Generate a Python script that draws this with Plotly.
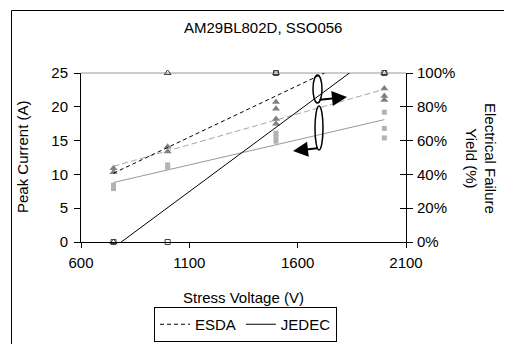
import plotly.graph_objects as go

# ---- data ----
esda_volt = [750, 750, 1000, 1000, 1500, 1500, 1500, 1500, 2000, 2000, 2000]
esda_current = [10.9, 10.3, 14.1, 13.4, 20.7, 19.7, 18.2, 17.5, 22.7, 21.6, 21.0]

jedec_volt = [750, 750, 1000, 1000, 1500, 1500, 1500, 2000, 2000, 2000]
jedec_current = [8.4, 7.9, 11.4, 11.05, 16.1, 15.5, 14.9, 19.2, 16.8, 15.4]

yield_volt = [750, 1000, 1500, 2000]
esda_yield = [0, 100, 100, 100]
jedec_yield = [0, 0, 100, 100]

fit_volt = [750, 2000]
esda_current_fit = [11.2, 22.6]
jedec_current_fit = [8.8, 18.1]
esda_yield_fit = [40.7, 116.9]
jedec_yield_fit = [-3.4, 115.3]

x_ticks = [600, 1100, 1600, 2100]
left_ticks = [0, 5, 10, 15, 20, 25]
right_ticks = [0, 20, 40, 60, 80, 100]
right_tick_text = ["0%", "20%", "40%", "60%", "80%", "100%"]

FONT = "Arial, 'Liberation Sans', sans-serif"

fig = go.Figure()

# trend lines
fig.add_trace(go.Scatter(x=fit_volt, y=esda_current_fit, mode="lines",
                         line=dict(color="#a6a6a6", width=1, dash="6px,3px"),
                         showlegend=False, yaxis="y"))
fig.add_trace(go.Scatter(x=fit_volt, y=jedec_current_fit, mode="lines",
                         line=dict(color="#999999", width=1),
                         showlegend=False, yaxis="y"))
fig.add_trace(go.Scatter(x=fit_volt, y=esda_yield_fit, mode="lines", name="ESDA",
                         line=dict(color="black", width=1, dash="4px,3px"),
                         yaxis="y2"))
fig.add_trace(go.Scatter(x=fit_volt, y=jedec_yield_fit, mode="lines", name="JEDEC",
                         line=dict(color="black", width=1),
                         yaxis="y2"))

# peak current points
fig.add_trace(go.Scatter(x=esda_volt, y=esda_current, mode="markers",
                         marker=dict(symbol="triangle-up", size=7, color="#808080"),
                         showlegend=False, yaxis="y"))
fig.add_trace(go.Scatter(x=jedec_volt, y=jedec_current, mode="markers",
                         marker=dict(symbol="square", size=5, color="#b3b3b3"),
                         showlegend=False, yaxis="y"))

# yield points
fig.add_trace(go.Scatter(x=yield_volt, y=esda_yield, mode="markers",
                         marker=dict(symbol="triangle-up-open", size=6, color="#404040",
                                     line=dict(width=1)),
                         showlegend=False, yaxis="y2", cliponaxis=False))
fig.add_trace(go.Scatter(x=yield_volt, y=jedec_yield, mode="markers",
                         marker=dict(symbol="square-open", size=5, color="#404040",
                                     line=dict(width=1)),
                         showlegend=False, yaxis="y3", cliponaxis=False))

# page body margin compensation (the page has an 8px body margin)
OFF = 8
W, H = 512 - OFF, 344 - OFF
PL, PT = 81, 73          # plot-area top-left in page pixels
pw, ph = 325, 169
L, T = PL - OFF, PT - OFF
R, B = W - L - pw, H - T - ph


def px(xp):
    return (xp - PL) / pw


def py(yp):
    return (PT + ph - yp) / ph


axis_font = dict(family=FONT, size=15, color="black")

fig.update_layout(
    width=W, height=H,
    margin=dict(l=L, r=R, t=T, b=B, pad=0, autoexpand=False),
    paper_bgcolor="white", plot_bgcolor="white",
    font=dict(family=FONT, size=15, color="black"),
    xaxis=dict(range=[600, 2100], tickvals=x_ticks, ticks="outside", ticklen=5,
               tickcolor="black", showline=True, linecolor="black", linewidth=1,
               showgrid=False, zeroline=False, tickfont=axis_font, automargin=False,
               ticklabelstandoff=2),
    yaxis=dict(range=[0, 25], tickvals=left_ticks, ticks="outside", ticklen=6,
               tickcolor="black", showline=True, linecolor="black", linewidth=1,
               showgrid=False, zeroline=False, tickfont=axis_font, automargin=False,
               ticklabelstandoff=3),
    yaxis2=dict(range=[0, 100], tickvals=right_ticks, ticktext=right_tick_text,
                overlaying="y", side="right", anchor="x",
                ticks="outside", ticklen=6, tickcolor="black",
                showline=True, linecolor="black", linewidth=1,
                showgrid=False, zeroline=False, tickfont=axis_font, automargin=False,
                ticklabelstandoff=1),
    yaxis3=dict(range=[0, 100], tickvals=right_ticks, overlaying="y", side="right",
                anchor="x", ticks="inside", ticklen=6, tickcolor="black",
                showticklabels=False, showline=False, showgrid=False, zeroline=False,
                automargin=False),
    legend=dict(orientation="h", x=px(245.5), xanchor="center", y=py(342), yanchor="bottom",
                bordercolor="black", borderwidth=1, font=dict(family=FONT, size=15),
                itemwidth=30, tracegroupgap=0),
    showlegend=True,
)

shapes = [
    # outer chart border
    dict(type="rect", xref="paper", yref="paper", x0=px(11.5), x1=px(560), y0=py(10.5), y1=py(400),
         line=dict(color="black", width=1), fillcolor="rgba(0,0,0,0)", layer="below"),
    # top plot-area edge
    dict(type="line", xref="paper", yref="paper", x0=0, x1=1, y0=1, y1=1,
         line=dict(color="#999999", width=1), layer="below"),
    # ellipses
    dict(type="circle", xref="paper", yref="paper", x0=px(313), x1=px(322), y0=py(103), y1=py(75),
         line=dict(color="black", width=1.5)),
    dict(type="circle", xref="paper", yref="paper", x0=px(315), x1=px(323), y0=py(150), y1=py(106),
         line=dict(color="black", width=1.5)),
]
fig.update_layout(shapes=shapes)

annotations = [
    dict(text="AM29BL802D, SSO056", xref="paper", yref="paper", x=px(263), y=py(28),
         xanchor="center", yanchor="middle",
         showarrow=False, font=dict(family=FONT, size=15)),
    dict(text="Stress Voltage (V)", xref="paper", yref="paper", x=px(243.5), y=py(297),
         xanchor="center", yanchor="middle",
         showarrow=False, font=dict(family=FONT, size=15)),
    dict(text="Peak Current (A)", xref="paper", yref="paper", x=px(22), y=py(157),
         xanchor="center", yanchor="middle",
         showarrow=False, textangle=-90, font=dict(family=FONT, size=15)),
    dict(text="Electrical Failure<br>Yield (%)", xref="paper", yref="paper", x=px(481), y=py(158),
         xanchor="center", yanchor="middle",
         showarrow=False, textangle=90, font=dict(family=FONT, size=15)),
    # arrows
    dict(xref="paper", yref="paper", x=px(347), y=py(97), ax=-29, ay=3, text="",
         showarrow=True, arrowhead=2, arrowsize=1.5, arrowwidth=2, arrowcolor="black"),
    dict(xref="paper", yref="paper", x=px(293), y=py(151), ax=26, ay=-3, text="",
         showarrow=True, arrowhead=2, arrowsize=1.5, arrowwidth=2, arrowcolor="black"),
]
fig.update_layout(annotations=annotations)

fig.write_html("out.html")
